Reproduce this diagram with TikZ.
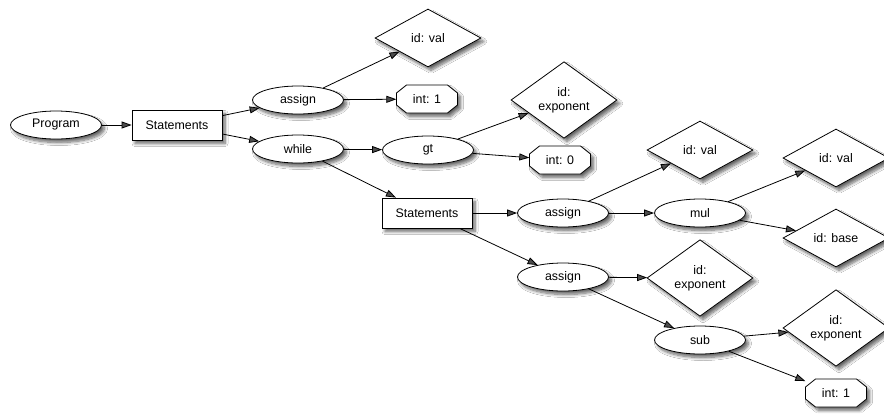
\documentclass[tikz,border=0pt]{standalone}
\usepackage{fontspec}
\setmainfont{Liberation Sans}
\usetikzlibrary{shapes.geometric,arrows.meta,shadows.blur}
\newcommand\octo[4]{%
  \path[octdraw,shift={(#2,#3)}] (-30.5,-6) -- (-20.5,-14) -- (20.5,-14) -- (30.5,-6)
    -- (30.5,6) -- (20.5,14) -- (-20.5,14) -- (-30.5,6) -- cycle;
  \node[octtext] (#1) at (#2,#3) {#4};}
\begin{document}
\begin{tikzpicture}[x=1pt,y=-1pt,
  font=\fontsize{12.4}{14}\selectfont,
  shad/.style={blur shadow={shadow xshift=3pt,shadow yshift=-3.5pt,shadow blur steps=8,shadow blur radius=3pt,shadow opacity=60}},
  base/.style={draw=black,line width=0.8pt,fill=white,inner sep=0pt,shad},
  ell/.style={base,ellipse,minimum width=91pt,minimum height=28pt},
  box/.style={base,rectangle,minimum width=90pt,minimum height=30pt},
  dia/.style={base,diamond,minimum width=106pt,minimum height=58pt,align=center,font=\fontsize{12.4}{14}\selectfont},
  octdraw/.style={draw=black,line width=0.8pt,fill=white,line join=miter,shad},
  octtext/.style={rectangle,inner sep=0pt,minimum width=61pt,minimum height=28pt},
  arr/.style={line width=0.8pt,-{Triangle[length=10pt,width=7pt]}}]
\clip (0,0) rectangle (884,413);
\fill[white] (0,0) rectangle (884,413);
\node[ell] (prog) at (56,125) {Program};
\node[box] (st1) at (177,125) {Statements};
\node[ell] (as1) at (298,100) {assign};
\node[dia] (val1) at (428,38) {id: val};
\octo{int1}{427}{99}{int: 1}
\node[ell] (wh) at (298,149) {while};
\node[ell] (gt) at (428,150) {gt};
\node[dia] (exp1) at (564,100) {id:\\exponent};
\octo{int0}{560}{160}{int: 0}
\node[box] (st2) at (427,213) {Statements};
\node[ell] (as2) at (563,213) {assign};
\node[dia] (val2) at (700,150) {id: val};
\node[ell] (mul) at (700,213) {mul};
\node[dia] (val3) at (836,158) {id: val};
\node[dia] (bas) at (836,238) {id: base};
\node[ell] (as3) at (563,277) {assign};
\node[dia] (exp2) at (700,278) {id:\\exponent};
\node[ell] (sub) at (700,340) {sub};
\node[dia] (exp3) at (836,328) {id:\\exponent};
\octo{int2}{836}{393}{int: 1}
\draw[arr] (prog) -- (st1);
\draw[arr] (st1) -- (as1);
\draw[arr] (st1) -- (wh);
\draw[arr] (as1) -- (val1);
\draw[arr] (as1) -- (int1);
\draw[arr] (wh) -- (gt);
\draw[arr] (wh) -- (st2);
\draw[arr] (gt) -- (exp1);
\draw[arr] (gt) -- (int0);
\draw[arr] (st2) -- (as2);
\draw[arr] (st2) -- (as3);
\draw[arr] (as2) -- (val2);
\draw[arr] (as2) -- (mul);
\draw[arr] (mul) -- (val3);
\draw[arr] (mul) -- (bas);
\draw[arr] (as3) -- (exp2);
\draw[arr] (as3) -- (sub);
\draw[arr] (sub) -- (exp3);
\draw[arr] (sub) -- (int2);
\end{tikzpicture}
\end{document}
